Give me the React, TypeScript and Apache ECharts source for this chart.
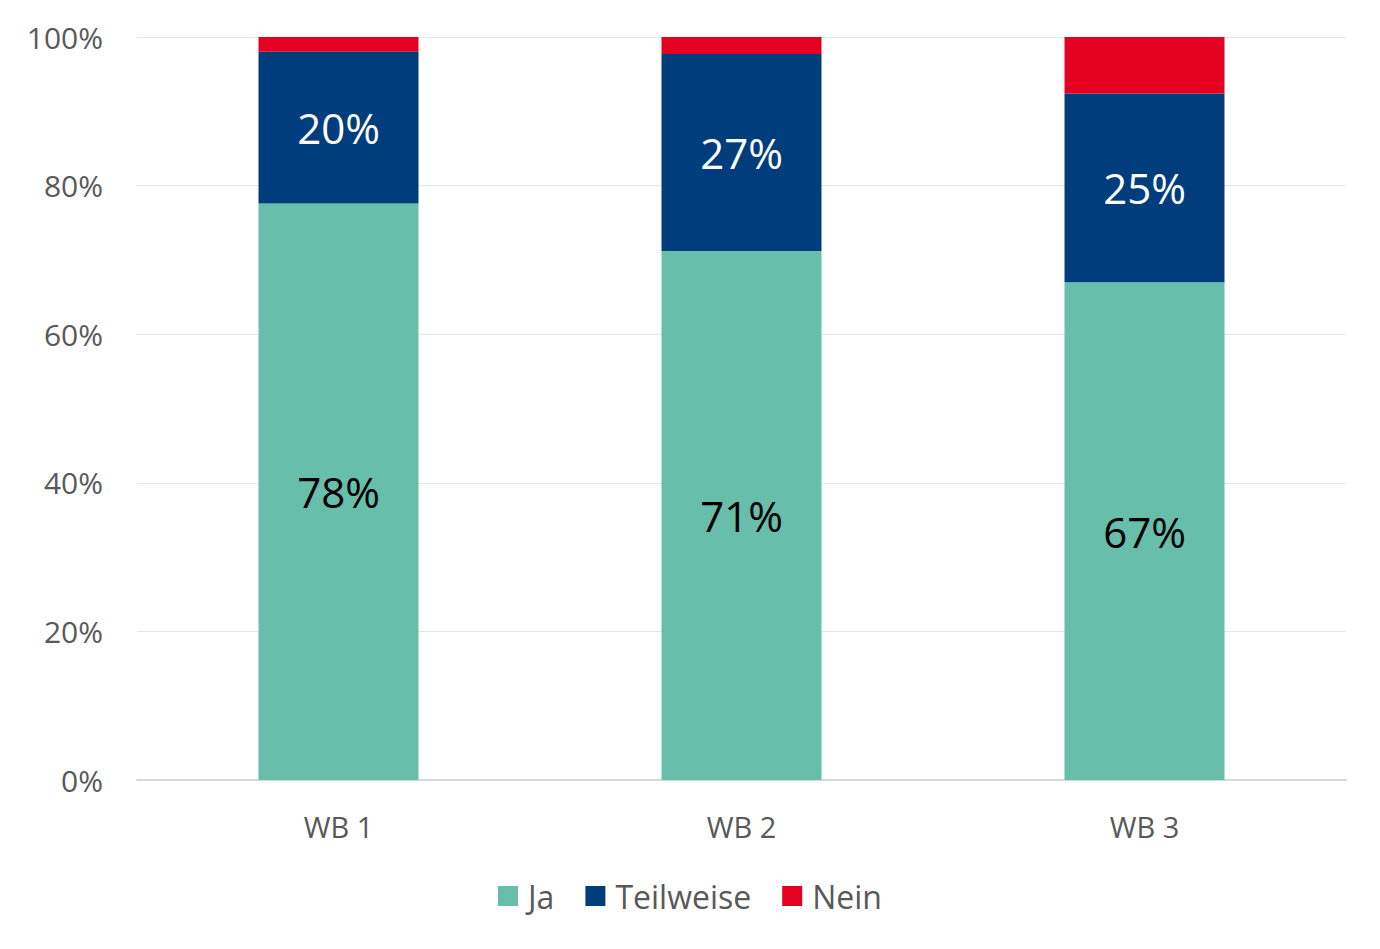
import React, { useEffect, useRef } from "react";
import * as echarts from "echarts";

const categories = ["WB 1", "WB 2", "WB 3"];
const jaValues = [77.6, 71.2, 67.0];
const teilweiseValues = [20.4, 26.5, 25.4];
const neinValues = [2.0, 2.3, 7.6];
const yTicks = [0, 20, 40, 60, 80, 100];

const FONT = "'Open Sans', Lato, sans-serif";

export default function App() {
  const ref = useRef<HTMLDivElement>(null);
  useEffect(() => {
    if (!ref.current) return;
    const chart = echarts.init(ref.current, undefined, { renderer: "svg" });
    const labelFmt = (p: any) => `${Math.round(p.value)}%`;
    chart.setOption({
      animation: false,
      textStyle: { fontFamily: FONT },
      grid: { left: 129, right: 26, top: 29, bottom: 161, containLabel: false },
      legend: {
        bottom: 24,
        left: "center",
        itemWidth: 20,
        itemHeight: 20,
        itemGap: 31,
        icon: "rect",
        textStyle: { fontSize: 32, color: "#595959", fontFamily: FONT, padding: [0, 0, 0, 5] },
        data: ["Ja", "Teilweise", "Nein"],
      },
      xAxis: {
        type: "category",
        data: categories,
        axisTick: { show: false },
        axisLine: { lineStyle: { color: "#d9d9d9", width: 2 } },
        axisLabel: { fontSize: 29, color: "#595959", margin: 32, fontFamily: FONT },
      },
      yAxis: {
        type: "value",
        min: yTicks[0],
        max: yTicks[yTicks.length - 1],
        interval: 20,
        axisLine: { show: false },
        axisTick: { show: false },
        splitLine: { lineStyle: { color: "#e6e6e6", width: 1 } },
        axisLabel: {
          fontSize: 30,
          color: "#595959",
          margin: 34,
          fontFamily: FONT,
          formatter: (v: number) => `${v}%`,
        },
      },
      series: [
        {
          name: "Ja",
          type: "bar",
          stack: "total",
          barWidth: "39.7%",
          data: jaValues,
          itemStyle: { color: "#67BFAB" },
          label: { show: true, position: "inside", fontSize: 42, color: "#000000", formatter: labelFmt, fontFamily: FONT },
        },
        {
          name: "Teilweise",
          type: "bar",
          stack: "total",
          data: teilweiseValues,
          itemStyle: { color: "#003D7C" },
          label: { show: true, position: "inside", fontSize: 42, color: "#ffffff", formatter: labelFmt, fontFamily: FONT },
        },
        {
          name: "Nein",
          type: "bar",
          stack: "total",
          data: neinValues,
          itemStyle: { color: "#E40020" },
          label: { show: false },
        },
      ],
    });
    return () => chart.dispose();
  }, []);
  return <div ref={ref} style={{ width: 1364, height: 933 }} />;
}
